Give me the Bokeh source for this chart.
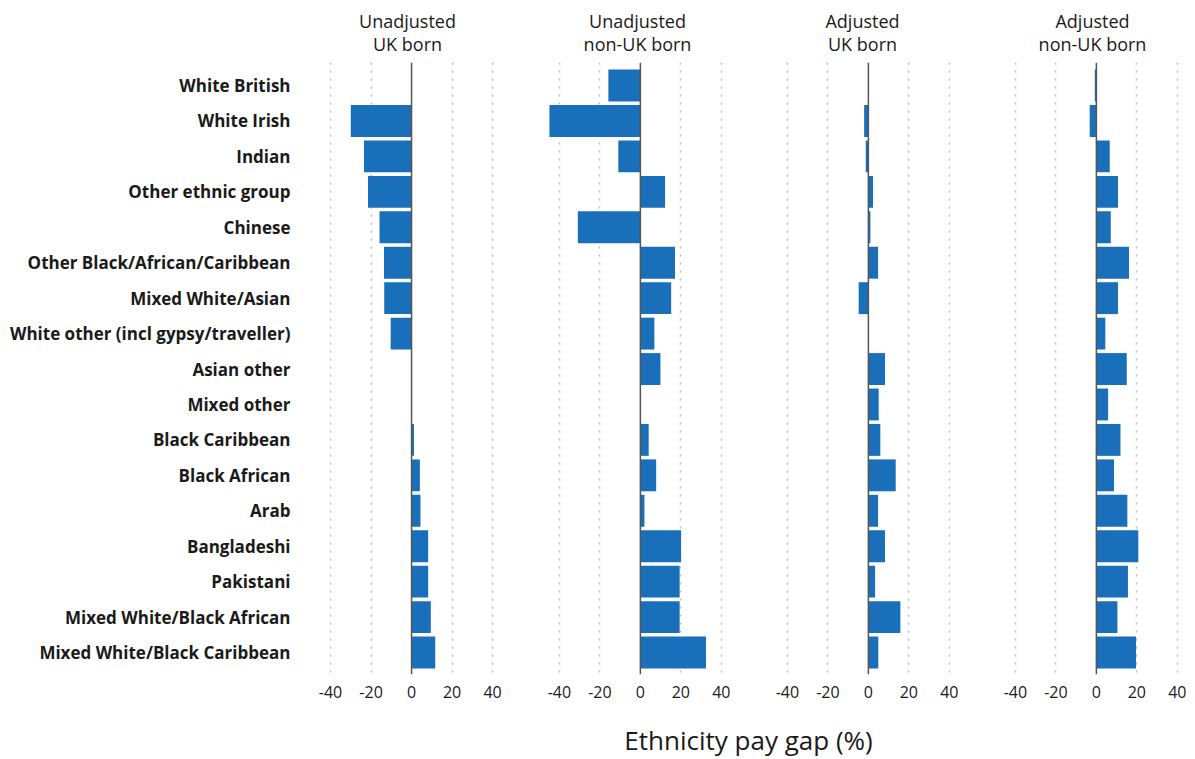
from bokeh.plotting import figure
from bokeh.layouts import row, column
from bokeh.models import Range1d, FixedTicker, Span, Label, ColumnDataSource
from bokeh.embed import file_html
from bokeh.resources import INLINE

categories = [
    "White British", "White Irish", "Indian", "Other ethnic group", "Chinese",
    "Other Black/African/Caribbean", "Mixed White/Asian",
    "White other (incl gypsy/traveller)", "Asian other", "Mixed other",
    "Black Caribbean", "Black African", "Arab", "Bangladeshi", "Pakistani",
    "Mixed White/Black African", "Mixed White/Black Caribbean",
]
unadj_uk = [0, -30.0, -23.5, -21.5, -15.8, -13.6, -13.5, -10.3, 0, 0, 1.2, 4.1, 4.4, 8.2, 8.2, 9.5, 11.7]
unadj_nonuk = [-15.8, -44.9, -10.9, 12.2, -30.9, 17.1, 15.2, 6.9, 9.9, 0.3, 4.1, 7.8, 2.0, 20.1, 19.4, 19.4, 32.4]
adj_uk = [0, -2.1, -1.3, 2.3, 1.0, 4.8, -4.8, 0, 8.2, 5.1, 5.9, 13.5, 4.8, 8.2, 3.3, 15.8, 4.9]
adj_nonuk = [-0.8, -3.3, 6.6, 10.7, 7.1, 16.1, 10.7, 4.4, 15.0, 5.8, 11.9, 8.7, 15.3, 20.7, 15.6, 10.4, 19.6]
panel_titles = [("Unadjusted", "UK born"), ("Unadjusted", "non-UK born"),
                ("Adjusted", "UK born"), ("Adjusted", "non-UK born")]
x_ticks = [-40, -20, 0, 20, 40]
x_tick_labels = ["-40", "-20", "0", "20", "40"]
grid_ticks = [-40, -20, 20, 40]
x_title = "Ethnicity pay gap (%)"

series = [unadj_uk, unadj_nonuk, adj_uk, adj_nonuk]
BAR = "#1a6fba"
FONT = "Open Sans"
TXT = "#1a1a1a"
ypos = list(range(len(categories)))

# header with panel titles
title_x = [407, 637, 862, 1092]
hdr = figure(width=1187, height=62, x_range=Range1d(0, 1187), y_range=Range1d(0, 62),
             min_border=0, toolbar_location=None, output_backend="svg",
             x_axis_location=None, y_axis_location=None)
hdr.outline_line_color = None
hdr.grid.visible = False
for (t1, t2), tx in zip(panel_titles, title_x):
    for txt, yy in ((t1, 42), (t2, 19)):
        hdr.add_layout(Label(x=tx, y=yy, text=txt, text_align="center",
                             text_baseline="middle", text_font=FONT,
                             text_font_size="18px", text_color=TXT))

figs = []
for k, vals in enumerate(series):
    first = k == 0
    xr = Range1d(-57.8, 45.4) if first else Range1d(-67.6, 45.0)
    p = figure(width=503 if first else 228, height=646, x_range=xr,
               y_range=Range1d(16.62, -0.65), output_backend="svg",
               toolbar_location=None, min_border_left=294 if first else 0,
               min_border_right=0, min_border_top=0, min_border_bottom=34,
               y_axis_location="left" if first else None)
    p.outline_line_color = None
    p.background_fill_color = "white"
    src = ColumnDataSource(dict(y=ypos, v=vals))
    p.hbar(y="y", left=0, right="v", height=0.9, source=src,
           fill_color=BAR, line_color=None)
    p.add_layout(Span(location=0, dimension="height", line_color="#555555", line_width=1.5))
    p.ygrid.visible = False
    p.xgrid.ticker = FixedTicker(ticks=grid_ticks)
    p.xgrid.grid_line_color = "#bdbdbd"
    p.xgrid.grid_line_dash = "2 6"
    p.xgrid.grid_line_width = 1.5
    p.xaxis.ticker = FixedTicker(ticks=x_ticks)
    p.xaxis.major_label_overrides = dict(zip(x_ticks, x_tick_labels))
    p.xaxis.axis_line_color = None
    p.xaxis.major_tick_line_color = None
    p.xaxis.minor_tick_line_color = None
    p.xaxis.major_tick_out = 0
    p.xaxis.major_label_text_font = FONT
    p.xaxis.major_label_text_font_size = "16px"
    p.xaxis.major_label_text_color = TXT
    p.xaxis.major_label_standoff = 11
    if first:
        p.yaxis.ticker = FixedTicker(ticks=ypos)
        p.yaxis.major_label_overrides = {i: c for i, c in enumerate(categories)}
        p.yaxis.axis_line_color = None
        p.yaxis.major_tick_line_color = None
        p.yaxis.minor_tick_line_color = None
        p.yaxis.major_tick_out = 0
        p.yaxis.major_label_text_font = FONT
        p.yaxis.major_label_text_font_style = "bold"
        p.yaxis.major_label_text_font_size = "17px"
        p.yaxis.major_label_text_color = TXT
        p.yaxis.major_label_standoff = 4
    figs.append(p)

fb = figure(width=1187, height=50, x_range=Range1d(0, 1187), y_range=Range1d(0, 50),
            min_border=0, toolbar_location=None, output_backend="svg",
            x_axis_location=None, y_axis_location=None)
fb.outline_line_color = None
fb.grid.visible = False
fb.add_layout(Label(x=748, y=19, text=x_title, text_align="center",
                    text_baseline="middle", text_font=FONT,
                    text_font_size="26px", text_color=TXT))

layout = column(hdr, row(*figs, spacing=0), fb, spacing=0)
open("out.html", "w").write(file_html(layout, INLINE))
